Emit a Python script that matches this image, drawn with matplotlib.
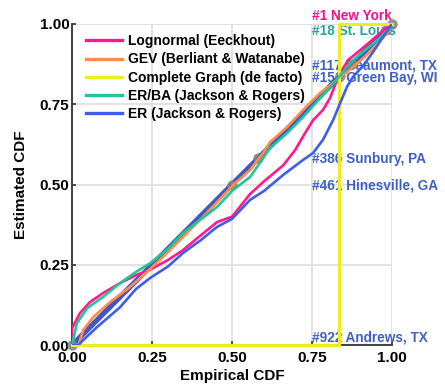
import numpy as np
import matplotlib.pyplot as plt

plt.rcParams['font.family'] = ['Liberation Sans', 'DejaVu Sans']

# curves (empirical CDF -> estimated CDF)
lognormal_x = [0, 0, 0.025, 0.056, 0.097, 0.15, 0.2, 0.244, 0.3, 0.347, 0.4, 0.453, 0.5,
               0.556, 0.6, 0.66, 0.697, 0.728, 0.753, 0.784, 0.806, 0.828, 0.844, 0.863,
               0.894, 0.931, 0.972, 1.0]
lognormal_y = [0, 0.053, 0.1, 0.134, 0.162, 0.193, 0.218, 0.235, 0.265, 0.296, 0.34, 0.383, 0.40,
               0.47, 0.51, 0.56, 0.607, 0.66, 0.70, 0.732, 0.769, 0.825, 0.857, 0.888,
               0.913, 0.944, 0.98, 1.0]

gev_x = [0, 0.02, 0.035, 0.066, 0.119, 0.18, 0.244, 0.3, 0.347, 0.4, 0.453, 0.503, 0.556,
         0.597, 0.619, 0.672, 0.722, 0.775, 0.828, 0.878, 0.931, 0.984, 1.0]
gev_y = [0, 0.0, 0.047, 0.087, 0.134, 0.18, 0.237, 0.29, 0.337, 0.39, 0.445, 0.498, 0.545,
         0.598, 0.632, 0.679, 0.732, 0.785, 0.826, 0.866, 0.913, 0.97, 1.0]

complete_x = [0, 0.834, 0.834, 1.0]
complete_y = [0, 0, 1.0, 1.0]

erba_x = [0, 0.015, 0.047, 0.097, 0.15, 0.2, 0.244, 0.3, 0.347, 0.4, 0.453, 0.503, 0.556,
          0.619, 0.672, 0.722, 0.775, 0.813, 0.838, 0.869, 0.909, 0.962, 0.994, 1.0]
erba_y = [0, 0.068, 0.115, 0.15, 0.193, 0.228, 0.255, 0.3, 0.349, 0.39, 0.43, 0.483, 0.523,
          0.614, 0.66, 0.71, 0.769, 0.81, 0.84, 0.879, 0.913, 0.956, 0.99, 1.0]

er_x = [0, 0.02, 0.035, 0.078, 0.15, 0.2, 0.244, 0.3, 0.347, 0.4, 0.453, 0.5, 0.556, 0.6,
        0.66, 0.72, 0.753, 0.784, 0.816, 0.838, 0.859, 0.878, 0.909, 0.941, 0.972, 1.0]
er_y = [0, 0, 0.016, 0.056, 0.118, 0.175, 0.209, 0.245, 0.287, 0.325, 0.368, 0.393, 0.452, 0.48,
        0.53, 0.575, 0.598, 0.639, 0.701, 0.754, 0.804, 0.835, 0.869, 0.913, 0.96, 1.0]

cities = ['#1 New York', '#18 St. Louis', '#117 Beaumont, TX', '#151 Green Bay, WI',
          '#386 Sunbury, PA', '#461 Hinesville, GA', '#922 Andrews, TX']
city_ecdf = [1.0, 0.9815, 0.874, 0.837, 0.582, 0.5, 0.0]
city_label_y = [1.025, 0.978, 0.872, 0.833, 0.579, 0.498, 0.025]
city_colors = ['#f0148c', '#26a69a', '#4060c8', '#4060c8', '#4060c8', '#4060c8', '#4060c8']

fig = plt.figure(figsize=(4.45, 3.86), dpi=100)
ax = fig.add_axes([0.162, 0.106, 0.719, 0.832])

for name, yv, c in zip(cities, city_label_y, city_colors):
    ax.text(0.75, yv, name, color=c, fontsize=9.8, fontweight='bold', va='center', zorder=1)

ax.plot([0, 1], [0, 1], color='#4457c0', lw=3.8, zorder=2, solid_capstyle='butt')
ax.plot(city_ecdf, city_ecdf, 'o', color='#808080', alpha=0.85, ms=7.5, mew=0,
        zorder=3, clip_on=False)

ax.plot(lognormal_x, lognormal_y, color='#ff1a8c', lw=1.9, label='Lognormal (Eeckhout)', zorder=4)
ax.plot(gev_x, gev_y, color='#ff8c4a', lw=1.9, label='GEV (Berliant & Watanabe)', zorder=4)
ax.plot(complete_x, complete_y, color='#eeee1e', lw=2.2, label='Complete Graph (de facto)',
        zorder=4, clip_on=False)
ax.plot(erba_x, erba_y, color='#22c49a', lw=1.9, label='ER/BA (Jackson & Rogers)', zorder=4)
ax.plot(er_x, er_y, color='#3d5ee8', lw=1.9, label='ER (Jackson & Rogers)', zorder=4)

ax.set_xlim(0, 1)
ax.set_ylim(0, 1)
ticks = [0, 0.25, 0.5, 0.75, 1.0]
ax.set_xticks(ticks)
ax.set_yticks(ticks)
ax.set_xticklabels(['%.2f' % t for t in ticks], fontsize=11, fontweight='bold')
ax.set_yticklabels(['%.2f' % t for t in ticks], fontsize=11, fontweight='bold')
ax.tick_params(direction='in', length=3, width=1.2, color='#333333')
ax.tick_params(axis='x', pad=4)
ax.tick_params(axis='y', pad=2)
ax.grid(True, color='#dddddd', lw=1.2, zorder=0)
ax.set_axisbelow(True)
for s in ['top', 'right']:
    ax.spines[s].set_visible(False)
for s in ['left', 'bottom']:
    ax.spines[s].set_color('#333333')
    ax.spines[s].set_linewidth(1.3)

ax.set_xlabel('Empirical CDF', fontsize=11, fontweight='bold', labelpad=3)
ax.set_ylabel('Estimated CDF', fontsize=11, fontweight='bold', labelpad=8)

leg = ax.legend(loc='upper left', frameon=False, prop={'size': 10, 'weight': 'bold'},
                handlelength=2.6, handletextpad=0.4, labelspacing=0.3,
                bbox_to_anchor=(0.027, 0.985), borderaxespad=0)
for l in leg.get_lines():
    l.set_linewidth(2.4)

plt.savefig('out.png', dpi=100)
